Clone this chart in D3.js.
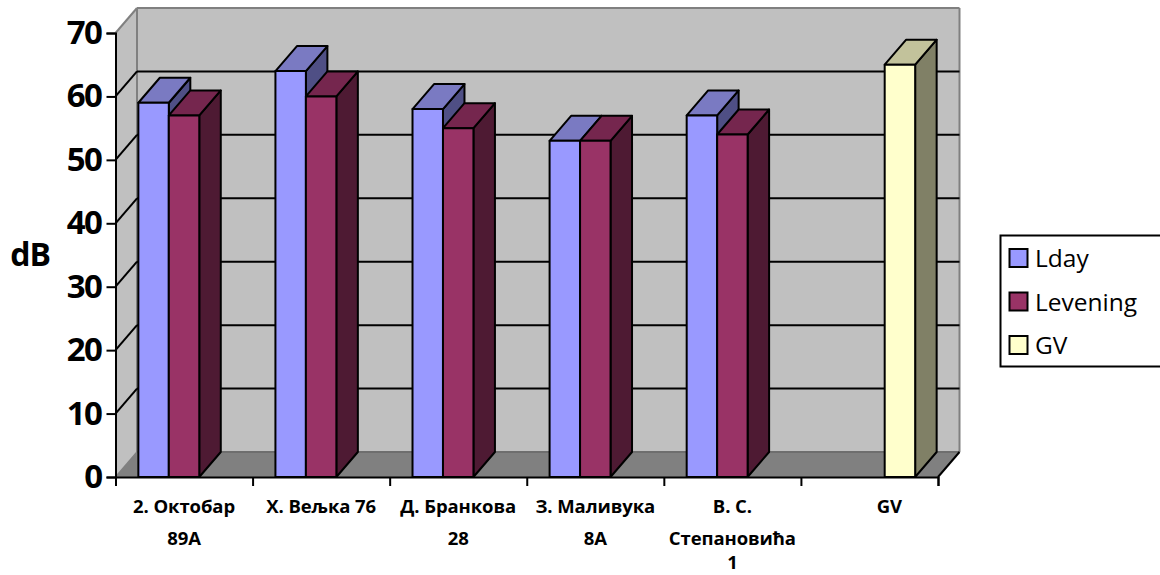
<!DOCTYPE html>
<html><head><meta charset="utf-8">
<script src="https://cdn.jsdelivr.net/npm/d3@7"></script>
<style>html,body{margin:0;padding:0;background:#fff;overflow:hidden}svg{display:block}</style>
</head><body><svg id="c" width="1160" height="575"></svg>
<script>
const categories = ["2. Октобар 89А","Х. Вељка 76","Д. Бранкова 28","З. Маливука 8А","В. С. Степановића 1","GV"];
const categoryLines = [["2. Октобар","89А"],["Х. Вељка 76"],["Д. Бранкова","28"],["З. Маливука","8А"],["В. С.","Степановића","1"],["GV"]];
const seriesNames = ["Lday","Levening","GV"];
const lday = [59,64,58,53,57,null];
const levening = [57,60,55,53,54,null];
const gv = [null,null,null,null,null,65];
const yTicks = [0,10,20,30,40,50,60,70];

const colors = {Lday:["#9999ff","#7a7ac2","#4f4f85"],Levening:["#993366","#75264e","#4e1a33"],GV:["#ffffcc","#c2c29b","#808066"]};
const svg = d3.select("#c");
const font = "'Open Sans',sans-serif";
const X0=115.5,X1=938,Y0=477,Y1=33,DX=21.5,DY=-25;
const x = d3.scaleBand().domain(categories).range([X0,X1]).paddingInner(0).paddingOuter(0);
const y = d3.scaleLinear().domain([0,70]).range([Y0,Y1]);
const step = x.step(), gapEach = step*0.75/4.5;
const inner = d3.scaleBand().domain(seriesNames).range([gapEach,step-gapEach]);
const poly=(pts,fill,stroke,sw)=>svg.append("polygon").attr("points",pts.map(p=>p.join(",")).join(" ")).attr("fill",fill).attr("stroke",stroke||"none").attr("stroke-width",sw||0).attr("stroke-linejoin","round");
const line=(a,b,c,sw)=>svg.append("line").attr("x1",a[0]).attr("y1",a[1]).attr("x2",b[0]).attr("y2",b[1]).attr("stroke",c).attr("stroke-width",sw);

// walls
poly([[X0,Y1],[X0+DX,Y1+DY],[X1+DX,Y1+DY],[X1+DX,Y0+DY],[X0+DX,Y0+DY],[X0,Y0]],"#c0c0c0");
poly([[X0,Y0],[X0+DX,Y0+DY],[X1+DX,Y0+DY],[X1,Y0]],"#808080");
line([X0,Y1],[X0+DX,Y1+DY],"#808080",2);
line([X0+DX,Y1+DY],[X1+DX,Y1+DY],"#808080",2);
line([X0+DX,Y1+DY],[X0+DX,Y0+DY],"#808080",2);
line([X1+DX,Y1+DY],[X1+DX,Y0+DY],"#808080",2);
line([X0,Y0],[X0+DX,Y0+DY],"#808080",1.5);
line([X0+DX,Y0+DY],[X1+DX,Y0+DY],"#6e6e6e",2);
// gridlines
yTicks.filter(t=>t>0&&t<70).forEach(t=>{
  line([X0,y(t)],[X0+DX,y(t)+DY],"#000",2);
  line([X0+DX,y(t)+DY],[X1+DX,y(t)+DY],"#000",2);
});

// bars
const values = {Lday:lday,Levening:levening,GV:gv};
categories.forEach((c,i)=>{
  seriesNames.forEach(s=>{
    const v=values[s][i]; if(v==null) return;
    const a=x(c)+inner(s), b=a+inner.bandwidth(), t=y(v), B=y(0), col=colors[s];
    poly([[b,t],[b+DX,t+DY],[b+DX,B+DY],[b,B]],col[2],"#000",2);
    poly([[a,t],[a+DX,t+DY],[b+DX,t+DY],[b,t]],col[1],"#000",2);
    poly([[a,t],[b,t],[b,B],[a,B]],col[0],"#000",2);
  });
});

// axes
const yAxis = svg.append("g").attr("transform",`translate(${X0},0)`).call(d3.axisLeft(y).tickValues(yTicks).tickSize(9).tickPadding(5));
yAxis.selectAll("path").attr("stroke","#000").attr("stroke-width",2);
yAxis.selectAll("line").attr("stroke","#000").attr("stroke-width",2);
yAxis.selectAll("text").attr("font-family",font).attr("font-weight",700).attr("font-size",33).attr("fill","#000").attr("letter-spacing",-1.5);
const xEdges = d3.scaleLinear().domain([0,categories.length]).range([X0,X1]);
const xAxis = svg.append("g").attr("transform",`translate(0,${Y0})`).call(d3.axisBottom(xEdges).tickValues(d3.range(categories.length+1)).tickSize(9).tickFormat(""));
xAxis.selectAll("path").attr("stroke","#000").attr("stroke-width",2);
xAxis.selectAll("line").attr("stroke","#000").attr("stroke-width",2);
line([X1,Y0],[X1+DX,Y0+DY],"#000",2);

// category labels
const lineY=[513,545,569];
categories.forEach((c,i)=>{
  const shift = i===categories.length-1 ? 20 : 0;
  categoryLines[i].forEach((l,j)=>{
    svg.append("text").attr("x",x(c)+step/2+shift).attr("y",lineY[j]).attr("text-anchor","middle")
      .attr("font-family",font).attr("font-weight",700).attr("font-size",18.5).attr("letter-spacing",-0.1).attr("fill","#000").text(l);
  });
});
svg.append("text").attr("x",30).attr("y",266).attr("text-anchor","middle").attr("font-family",font).attr("font-weight",700).attr("font-size",32).attr("letter-spacing",-1).text("dB");

// legend
svg.append("rect").attr("x",1000.5).attr("y",235.5).attr("width",165).attr("height",131).attr("fill","#fff").attr("stroke","#000").attr("stroke-width",2);
seriesNames.forEach((s,i)=>{
  const yy=d3.scalePoint().domain(seriesNames).range([258,345])(s);
  svg.append("rect").attr("x",1009.5).attr("y",yy-9).attr("width",18).attr("height",18).attr("fill",colors[s][0]).attr("stroke","#000").attr("stroke-width",2);
  svg.append("text").attr("x",1035).attr("y",yy+9).attr("font-family",font).attr("font-size",24.5).attr("fill","#000").text(s);
});
</script></body></html>
